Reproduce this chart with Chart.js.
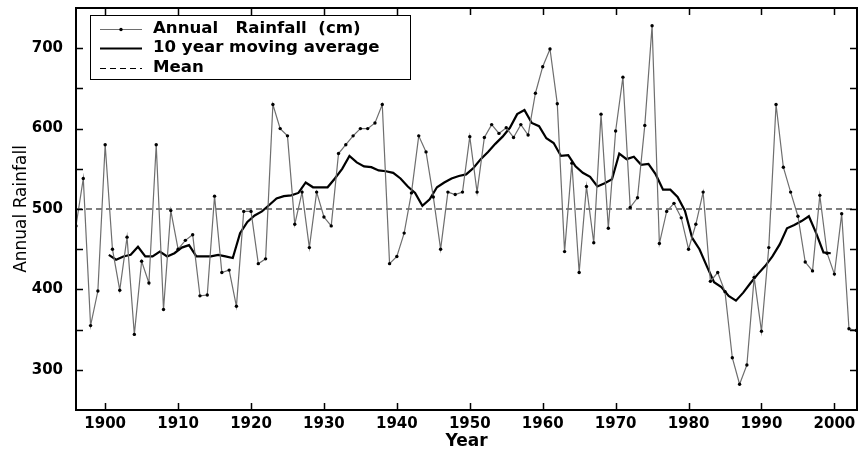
<!DOCTYPE html>
<html>
<head>
<meta charset="utf-8">
<script src="https://cdn.jsdelivr.net/npm/chart.js@4.4.0/dist/chart.umd.min.js"></script>
<style>
  html, body { margin: 0; padding: 0; background: #fff; }
  #wrap { width: 858px; height: 450px; }
</style>
</head>
<body>
<div id="wrap"><canvas id="rain" width="858" height="450"></canvas></div>
<script>
// annual rainfall, one value per year
const years = [
  1896, 1897, 1898, 1899,
  1900, 1901, 1902, 1903, 1904, 1905, 1906, 1907, 1908, 1909,
  1910, 1911, 1912, 1913, 1914, 1915, 1916, 1917, 1918, 1919,
  1920, 1921, 1922, 1923, 1924, 1925, 1926, 1927, 1928, 1929,
  1930, 1931, 1932, 1933, 1934, 1935, 1936, 1937, 1938, 1939,
  1940, 1941, 1942, 1943, 1944, 1945, 1946, 1947, 1948, 1949,
  1950, 1951, 1952, 1953, 1954, 1955, 1956, 1957, 1958, 1959,
  1960, 1961, 1962, 1963, 1964, 1965, 1966, 1967, 1968, 1969,
  1970, 1971, 1972, 1973, 1974, 1975, 1976, 1977, 1978, 1979,
  1980, 1981, 1982, 1983, 1984, 1985, 1986, 1987, 1988, 1989,
  1990, 1991, 1992, 1993, 1994, 1995, 1996, 1997, 1998, 1999,
  2000, 2001, 2002, 2003, 2004
];
const rainfall = [
  479, 538, 355, 398,
  580, 450, 399, 465, 344, 435, 408, 580, 375, 498,
  450, 461, 468, 392, 393, 516, 421, 424, 379, 497,
  497, 432, 438, 630, 600, 591, 481, 521, 452, 521,
  490, 479, 569, 580, 591, 600, 600, 607, 630, 432,
  441, 470, 520, 591, 571, 515, 450, 521, 518, 521,
  590, 521, 589, 605, 594, 601, 589, 605, 592, 644,
  677, 699, 631, 447, 557, 421, 528, 458, 618, 476,
  597, 664, 502, 514, 604, 728, 457, 497, 507, 489,
  450, 481, 521, 410, 421, 397, 315, 282, 306, 415,
  348, 452, 630, 552, 521, 491, 434, 423, 517, 445,
  419, 494, 351, 349, 440
];

// 10 year moving average, centred between years
const maYears = [
  1900.5, 1901.5, 1902.5, 1903.5, 1904.5, 1905.5, 1906.5, 1907.5, 1908.5, 1909.5,
  1910.5, 1911.5, 1912.5, 1913.5, 1914.5, 1915.5, 1916.5, 1917.5, 1918.5, 1919.5,
  1920.5, 1921.5, 1922.5, 1923.5, 1924.5, 1925.5, 1926.5, 1927.5, 1928.5, 1929.5,
  1930.5, 1931.5, 1932.5, 1933.5, 1934.5, 1935.5, 1936.5, 1937.5, 1938.5, 1939.5,
  1940.5, 1941.5, 1942.5, 1943.5, 1944.5, 1945.5, 1946.5, 1947.5, 1948.5, 1949.5,
  1950.5, 1951.5, 1952.5, 1953.5, 1954.5, 1955.5, 1956.5, 1957.5, 1958.5, 1959.5,
  1960.5, 1961.5, 1962.5, 1963.5, 1964.5, 1965.5, 1966.5, 1967.5, 1968.5, 1969.5,
  1970.5, 1971.5, 1972.5, 1973.5, 1974.5, 1975.5, 1976.5, 1977.5, 1978.5, 1979.5,
  1980.5, 1981.5, 1982.5, 1983.5, 1984.5, 1985.5, 1986.5, 1987.5, 1988.5, 1989.5,
  1990.5, 1991.5, 1992.5, 1993.5, 1994.5, 1995.5, 1996.5, 1997.5, 1998.5, 1999.5
];
const maValues = [
  443, 437, 441, 443, 453, 441, 441, 447, 441, 445,
  452, 455, 441, 441, 441, 443, 441, 439, 470, 484,
  492, 497, 505, 513, 516, 517, 520, 533, 527, 527,
  527, 538, 550, 566, 558, 553, 552, 548, 547, 545,
  538, 528, 520, 504, 512, 527, 533, 538, 541, 543,
  551, 562, 571, 581, 590, 601, 618, 623, 607, 603,
  588, 582, 566, 567, 553, 545, 540, 528, 532, 537,
  569, 562, 565, 555, 556, 543, 524, 524, 515, 498,
  464, 450, 429, 409, 403, 392, 386, 396, 408, 419,
  429, 441, 456, 476, 480, 485, 491, 470, 446, 445
];

const meanValue = 500;

const xTickLabels = [1900, 1910, 1920, 1930, 1940, 1950, 1960, 1970, 1980, 1990, 2000];
const yTickLabels = [300, 400, 500, 600, 700];
const yMinorTicks = [350, 450, 550, 650];

const legendLabels = ['Annual   Rainfall  (cm)', '10 year moving average', 'Mean'];

const FONT = 'DejaVu Sans';

// inward ticks on all four sides + box frame (matlab look)
const frameTicks = {
  id: 'frameTicks',
  afterDraw(chart) {
    const { ctx, chartArea: a, scales: { x, y } } = chart;
    const len = 7;
    ctx.save();
    ctx.strokeStyle = '#000';
    ctx.lineWidth = 1.5;
    ctx.beginPath();
    x.ticks.forEach(t => {
      const px = Math.round(x.getPixelForValue(t.value)) + 0.5;
      ctx.moveTo(px, a.bottom); ctx.lineTo(px, a.bottom - len);
      ctx.moveTo(px, a.top); ctx.lineTo(px, a.top + len);
    });
    y.ticks.forEach(t => {
      const py = Math.round(y.getPixelForValue(t.value)) + 0.5;
      ctx.moveTo(a.left, py); ctx.lineTo(a.left + len, py);
      ctx.moveTo(a.right, py); ctx.lineTo(a.right - len, py);
    });
    ctx.stroke();
    ctx.lineWidth = 2;
    ctx.strokeRect(a.left, a.top, a.right - a.left, a.bottom - a.top);
    ctx.restore();
  }
};

// boxed legend inside the plot, top left
const boxLegend = {
  id: 'boxLegend',
  afterDraw(chart) {
    const ctx = chart.ctx;
    const bx = 90, by = 15, bw = 320, bh = 64;
    const rows = [29, 48, 68];
    ctx.save();
    ctx.fillStyle = '#fff';
    ctx.fillRect(bx, by, bw, bh);
    ctx.strokeStyle = '#000';
    ctx.lineWidth = 1;
    ctx.strokeRect(bx + 0.5, by + 0.5, bw, bh);

    chart.data.datasets.forEach((ds, i) => {
      const ly = rows[i] + 0.5;
      ctx.beginPath();
      ctx.strokeStyle = ds.borderColor;
      ctx.lineWidth = ds.borderWidth;
      ctx.setLineDash(ds.borderDash || []);
      ctx.moveTo(100, ly);
      ctx.lineTo(142, ly);
      ctx.stroke();
      ctx.setLineDash([]);
      if (ds.pointRadius > 0) {
        ctx.beginPath();
        ctx.fillStyle = '#000';
        ctx.arc(121, ly, ds.pointRadius, 0, Math.PI * 2);
        ctx.fill();
      }
      ctx.fillStyle = '#000';
      ctx.font = 'bold 16.6px ' + FONT;
      ctx.textBaseline = 'middle';
      ctx.fillText(legendLabels[i], 153, rows[i]);
    });
    ctx.restore();
  }
};

const rainData = years.map((yr, i) => ({ x: yr, y: rainfall[i] }));
const maData = maYears.map((yr, i) => ({ x: yr, y: maValues[i] }));
const meanData = [
  { x: years[0], y: meanValue },
  { x: years[years.length - 1], y: meanValue }
];

new Chart(document.getElementById('rain'), {
  type: 'line',
  data: {
    datasets: [
      {
        label: legendLabels[0],
        data: rainData,
        borderColor: '#6e6e6e',
        borderWidth: 1.2,
        pointRadius: 1.7,
        pointBackgroundColor: '#000',
        pointBorderWidth: 0,
        tension: 0
      },
      {
        label: legendLabels[1],
        data: maData,
        borderColor: '#000',
        borderWidth: 2.2,
        pointRadius: 0,
        tension: 0
      },
      {
        label: legendLabels[2],
        data: meanData,
        borderColor: '#000',
        borderWidth: 1.2,
        borderDash: [6, 4],
        pointRadius: 0
      }
    ]
  },
  options: {
    responsive: false,
    animation: false,
    devicePixelRatio: 1,
    layout: { autoPadding: false, padding: { top: 8, right: 1, left: 0, bottom: 0 } },
    plugins: {
      legend: { display: false },
      tooltip: { enabled: false }
    },
    scales: {
      x: {
        type: 'linear',
        min: 1896,
        max: 2003.1,
        grid: { display: false },
        border: { display: false },
        afterBuildTicks: s => { s.ticks = xTickLabels.map(v => ({ value: v })); },
        afterFit: s => { s.height = 40; s.paddingLeft = 0; s.paddingRight = 0; },
        ticks: {
          color: '#000',
          padding: -3,
          maxRotation: 0,
          autoSkip: false,
          font: { family: FONT, size: 15, weight: 'bold' },
          callback: v => String(v)
        },
        title: {
          display: true,
          text: 'Year',
          color: '#000',
          padding: { top: 0, bottom: 0 },
          font: { family: FONT, size: 17, weight: 'bold', lineHeight: 1 }
        }
      },
      y: {
        min: 250,
        max: 750,
        grid: { display: false },
        border: { display: false },
        afterBuildTicks: s => {
          s.ticks = yTickLabels.concat(yMinorTicks).sort((a, b) => a - b).map(v => ({ value: v }));
        },
        afterFit: s => { s.width = 76; s.paddingTop = 0; s.paddingBottom = 0; },
        ticks: {
          color: '#000',
          padding: 5,
          autoSkip: false,
          font: { family: FONT, size: 15, weight: 'bold' },
          callback: v => (yTickLabels.includes(v) ? String(v) : '')
        },
        title: {
          display: true,
          text: 'Annual Rainfall',
          color: '#000',
          padding: { top: 13, bottom: 0 },
          font: { family: FONT, size: 17, lineHeight: 1 }
        }
      }
    }
  },
  plugins: [frameTicks, boxLegend]
});
</script>
</body>
</html>
